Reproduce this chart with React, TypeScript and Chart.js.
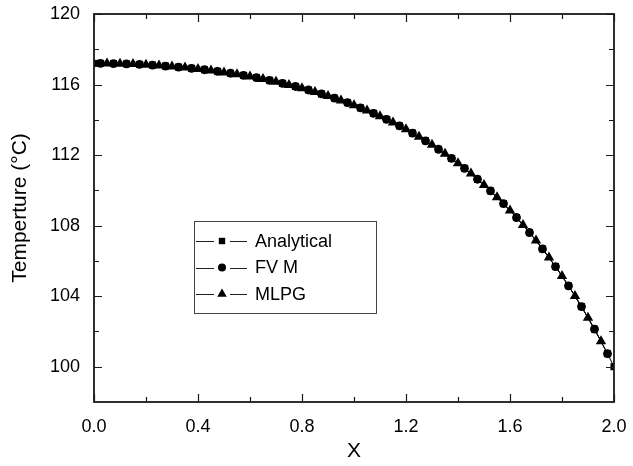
import React, { useEffect, useRef } from "react";
import { Chart, registerables } from "chart.js";

Chart.register(...registerables);

// ---- data ----
const xAnalytical = [0, 0.025, 0.075, 0.125, 0.175, 0.225, 0.275, 0.325, 0.375, 0.425, 0.475, 0.525, 0.575, 0.625, 0.675, 0.725, 0.775, 0.825, 0.875, 0.925, 0.975, 1.025, 1.075, 1.125, 1.175, 1.225, 1.275, 1.325, 1.375, 1.425, 1.475, 1.525, 1.575, 1.625, 1.675, 1.725, 1.775, 1.825, 1.875, 1.925, 1.975, 2.0];
const tAnalytical = [117.2, 117.2, 117.19, 117.17, 117.14, 117.1, 117.05, 116.99, 116.92, 116.84, 116.75, 116.64, 116.52, 116.39, 116.24, 116.07, 115.89, 115.69, 115.47, 115.23, 114.97, 114.68, 114.37, 114.03, 113.66, 113.25, 112.81, 112.33, 111.81, 111.25, 110.63, 109.97, 109.25, 108.46, 107.61, 106.68, 105.68, 104.59, 103.41, 102.13, 100.74, 100.0];

const xFvm = [0.025, 0.075, 0.125, 0.175, 0.225, 0.275, 0.325, 0.375, 0.425, 0.475, 0.525, 0.575, 0.625, 0.675, 0.725, 0.775, 0.825, 0.875, 0.925, 0.975, 1.025, 1.075, 1.125, 1.175, 1.225, 1.275, 1.325, 1.375, 1.425, 1.475, 1.525, 1.575, 1.625, 1.675, 1.725, 1.775, 1.825, 1.875, 1.925, 1.975];
const tFvm = [117.2, 117.19, 117.17, 117.14, 117.1, 117.05, 116.99, 116.92, 116.84, 116.75, 116.64, 116.52, 116.39, 116.24, 116.07, 115.89, 115.69, 115.47, 115.23, 114.97, 114.68, 114.37, 114.03, 113.66, 113.25, 112.81, 112.33, 111.81, 111.25, 110.63, 109.97, 109.25, 108.46, 107.61, 106.68, 105.68, 104.59, 103.41, 102.13, 100.74];

const xMlpg = [0.05, 0.1, 0.15, 0.2, 0.25, 0.3, 0.35, 0.4, 0.45, 0.5, 0.55, 0.6, 0.65, 0.7, 0.75, 0.8, 0.85, 0.9, 0.95, 1.0, 1.05, 1.1, 1.15, 1.2, 1.25, 1.3, 1.35, 1.4, 1.45, 1.5, 1.55, 1.6, 1.65, 1.7, 1.75, 1.8, 1.85, 1.9, 1.95];
const tMlpg = [117.2, 117.18, 117.16, 117.12, 117.08, 117.02, 116.96, 116.88, 116.79, 116.69, 116.58, 116.45, 116.31, 116.16, 115.98, 115.79, 115.58, 115.35, 115.1, 114.83, 114.53, 114.2, 113.85, 113.46, 113.04, 112.58, 112.08, 111.54, 110.95, 110.31, 109.61, 108.86, 108.04, 107.16, 106.19, 105.15, 104.01, 102.78, 101.45];

const seriesLabels = ["Analytical", "FV M", "MLPG"];
const xMajorTicks = [0, 0.4, 0.8, 1.2, 1.6, 2.0];
const xMinorTicks = [0.2, 0.6, 1.0, 1.4, 1.8];
const yMajorTicks = [100, 104, 108, 112, 116, 120];
const yMinorTicks = [102, 106, 110, 114, 118];
const xTitle = "X";
const yTitle = "Temperture (\u00B0C)";

const FONT = "'Liberation Sans', Arial, Helvetica, sans-serif";

function drawMarker(ctx: CanvasRenderingContext2D, style: string, x: number, y: number) {
  ctx.beginPath();
  if (style === "rect") {
    ctx.rect(x - 3.2, y - 3.2, 6.4, 6.4);
  } else if (style === "circle") {
    ctx.arc(x, y, 4, 0, Math.PI * 2);
  } else {
    const r = 5.5;
    ctx.moveTo(x, y - r);
    ctx.lineTo(x + r * 0.866, y + r * 0.5);
    ctx.lineTo(x - r * 0.866, y + r * 0.5);
    ctx.closePath();
  }
  ctx.fill();
}

const framePlugin = {
  id: "frameTicks",
  afterDatasetsDraw(chart: any) {
    const { ctx, chartArea: a, scales } = chart;
    const xs = scales.x;
    const ys = scales.y;
    ctx.save();
    ctx.strokeStyle = "#1a1a1a";
    ctx.lineWidth = 1.2;
    ctx.beginPath();
    const major = 8;
    const minor = 5;
    xMajorTicks.forEach((v) => {
      const p = Math.round(xs.getPixelForValue(v)) + 0.5;
      ctx.moveTo(p, a.bottom); ctx.lineTo(p, a.bottom - major);
      ctx.moveTo(p, a.top); ctx.lineTo(p, a.top + major);
    });
    xMinorTicks.forEach((v) => {
      const p = Math.round(xs.getPixelForValue(v)) + 0.5;
      ctx.moveTo(p, a.bottom); ctx.lineTo(p, a.bottom - minor);
      ctx.moveTo(p, a.top); ctx.lineTo(p, a.top + minor);
    });
    yMajorTicks.forEach((v) => {
      const p = Math.round(ys.getPixelForValue(v)) + 0.5;
      ctx.moveTo(a.left, p); ctx.lineTo(a.left + major, p);
      ctx.moveTo(a.right, p); ctx.lineTo(a.right - major, p);
    });
    yMinorTicks.forEach((v) => {
      const p = Math.round(ys.getPixelForValue(v)) + 0.5;
      ctx.moveTo(a.left, p); ctx.lineTo(a.left + minor, p);
      ctx.moveTo(a.right, p); ctx.lineTo(a.right - minor, p);
    });
    ctx.stroke();
    ctx.lineWidth = 1.8;
    ctx.strokeRect(a.left, a.top, a.right - a.left, a.bottom - a.top);
    ctx.restore();
  },
  afterDraw(chart: any) {
    const { ctx, chartArea: a } = chart;
    const bx = a.left + 100;
    const by = a.top + 207;
    const bw = 182;
    const bh = 92;
    ctx.save();
    ctx.fillStyle = "#fff";
    ctx.fillRect(bx, by, bw, bh);
    ctx.strokeStyle = "#444";
    ctx.lineWidth = 1;
    ctx.strokeRect(bx + 0.5, by + 0.5, bw, bh);
    const rows = [20, 46.5, 73];
    const styles = ["rect", "circle", "triangle"];
    ctx.font = `18px ${FONT}`;
    ctx.textBaseline = "middle";
    ctx.textAlign = "left";
    rows.forEach((dy, i) => {
      const y = by + dy;
      const cx = bx + 28;
      ctx.strokeStyle = "#222";
      ctx.lineWidth = 1;
      ctx.beginPath();
      ctx.moveTo(bx + 2, Math.round(y) + 0.5);
      ctx.lineTo(cx - 8, Math.round(y) + 0.5);
      ctx.moveTo(cx + 8, Math.round(y) + 0.5);
      ctx.lineTo(cx + 25, Math.round(y) + 0.5);
      ctx.stroke();
      ctx.fillStyle = "#000";
      drawMarker(ctx, styles[i], cx, y);
      ctx.fillText(seriesLabels[i], bx + 61, y + 1);
    });
    ctx.restore();
  },
};

function toPoints(xs: number[], ys: number[]) {
  return xs.map((x, i) => ({ x, y: ys[i] }));
}

export default function App() {
  const ref = useRef<HTMLCanvasElement | null>(null);

  useEffect(() => {
    document.body.style.margin = "0";
    const canvas = ref.current;
    if (!canvas) return;
    const common = {
      borderColor: "#000",
      borderWidth: 1,
      pointBackgroundColor: "#000",
      pointBorderColor: "#000",
      pointBorderWidth: 0,
      showLine: true,
      tension: 0,
      fill: false,
    };
    const chart = new Chart(canvas, {
      type: "line",
      data: {
        datasets: [
          { ...common, label: seriesLabels[0], data: toPoints(xAnalytical, tAnalytical), pointStyle: "rect", pointRadius: 5, order: 3 },
          { ...common, label: seriesLabels[1], data: toPoints(xFvm, tFvm), pointStyle: "circle", pointRadius: 4.4, order: 2 },
          { ...common, label: seriesLabels[2], data: toPoints(xMlpg, tMlpg), pointStyle: "triangle", pointRadius: 6, order: 1 },
        ],
      },
      options: {
        animation: false,
        responsive: false,
        events: [],
        layout: { padding: { top: 14, right: 19, left: 0, bottom: 0 } },
        plugins: { legend: { display: false }, tooltip: { enabled: false } },
        scales: {
          x: {
            type: "linear",
            min: 0,
            max: 2,
            grid: { display: false },
            border: { display: false },
            afterBuildTicks: (s: any) => { s.ticks = xMajorTicks.map((v) => ({ value: v })); },
            afterFit: (s: any) => { s.height = 64; s.paddingLeft = 0; s.paddingRight = 0; },
            ticks: {
              color: "#000",
              padding: 6,
              maxRotation: 0,
              font: { family: FONT, size: 18 },
              callback: (v: any) => Number(v).toFixed(1),
            },
            title: { display: true, text: xTitle, color: "#000", font: { family: FONT, size: 21 }, padding: { top: 0, bottom: 2 } },
          },
          y: {
            type: "linear",
            min: 98,
            max: 120,
            grid: { display: false },
            border: { display: false },
            afterBuildTicks: (s: any) => { s.ticks = yMajorTicks.map((v) => ({ value: v })); },
            afterFit: (s: any) => { s.width = 94; s.paddingTop = 0; s.paddingBottom = 0; },
            ticks: {
              color: "#000",
              padding: 6,
              font: { family: FONT, size: 18 },
              callback: (v: any) => String(v),
            },
            title: { display: true, text: yTitle, color: "#000", font: { family: FONT, size: 21 }, padding: { top: 8, bottom: 0 } },
          },
        },
      },
      plugins: [framePlugin],
    } as any);
    return () => chart.destroy();
  }, []);

  return (
    <div style={{ width: 633, height: 466, background: "#fff" }}>
      <canvas ref={ref} width={633} height={466} />
    </div>
  );
}
